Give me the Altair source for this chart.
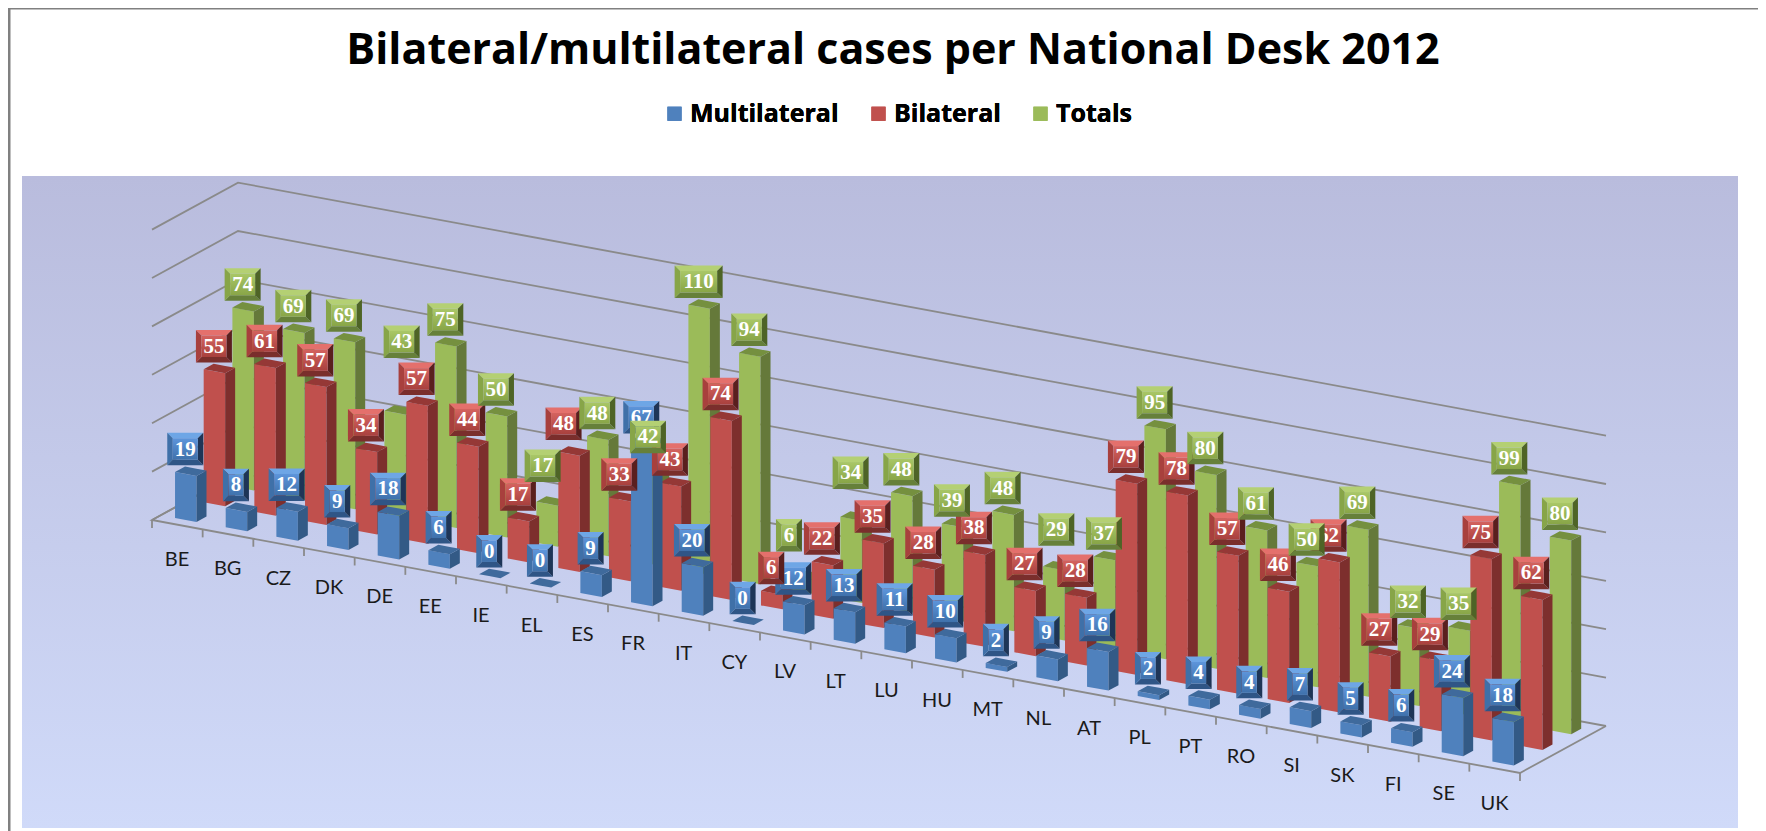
import altair as alt
import pandas as pd

# ---------- data ----------
categories = ["BE","BG","CZ","DK","DE","EE","IE","EL","ES","FR","IT","CY","LV","LT","LU","HU","MT","NL","AT","PL","PT","RO","SI","SK","FI","SE","UK"]
multilateral = [19,8,12,9,18,6,0,0,9,67,20,0,12,13,11,10,2,9,16,2,4,4,7,5,6,24,18]
bilateral = [55,61,57,34,57,44,17,48,33,43,74,6,22,35,28,38,27,28,79,78,57,46,62,27,29,75,62]
totals = [74,69,69,43,75,50,17,48,42,110,94,6,34,48,39,48,29,37,95,80,61,50,69,32,35,99,80]
series_names = ["Multilateral", "Bilateral", "Totals"]
gridlevels = [0, 20, 40, 60, 80, 100, 120]
title_text = "Bilateral/multilateral cases per National Desk 2012"

# ---------- 3D projection of (category, depth, value) to picture space ----------
FL = (152.0, 520.0)
ALONG = (1368.0, 253.0)
DEPTH = (86.0, -47.0)
PX_PER_UNIT = 2.42
N = len(categories)
BAR_U = 0.424
BAR_D = 0.116
ROW_D = [0.10, 0.433, 0.767]
BEVEL = 5.5
CANVAS_H = 823

# labels that were moved by hand in the original chart: (series, category) -> shift
label_shift = {(2, "DK"): (7, -46), (2, "IE"): (-4, -13), (1, "EL"): (-5, -5),
               (2, "CY"): (-11, -17), (2, "LV"): (0, -21), (2, "MT"): (3, -14)}

def proj(cat, depth, val=0.0):
    u = cat / N
    return (FL[0] + ALONG[0] * u + DEPTH[0] * depth,
            FL[1] + ALONG[1] * u + DEPTH[1] * depth - PX_PER_UNIT * val)

def face_rows(name, a, b, h):
    return [dict(cat=name, x=a[0], y=a[1] - h, y2=a[1]), dict(cat=name, x=b[0], y=b[1] - h, y2=b[1])]

def interp(p, q, x):
    return p[1] + (q[1] - p[1]) * (x - p[0]) / (q[0] - p[0])

# ---------- styling ----------
front_col = ["#4F81BD", "#C0504D", "#9BBB59"]
side_col = ["#335A86", "#7D2F2D", "#65793A"]
top_col = ["#3F6A9C", "#953836", "#75903F"]
bev_top = ["#6EA6E6", "#E4706C", "#B4D073"]
bev_left = ["#3F70A8", "#A8403D", "#87A548"]
bev_right = ["#1E3557", "#5A1F1E", "#4E6426"]
bev_bot = ["#2F5586", "#7A2E2C", "#66803A"]
face_a = ["#5D95DB", "#D4635F", "#A9C767"]
face_b = ["#3F71AB", "#A8403D", "#88A547"]

series_vals = [multilateral, bilateral, totals]
fronts, sides, tops, anchors, bevels = [], [], [], [], []
for s, vals in enumerate(series_vals):
    fr, si, to, an, be = [], [], [], [], []
    d0 = ROW_D[s]
    for i, v in enumerate(vals):
        c0 = i + 0.285
        h = v * PX_PER_UNIT
        A = proj(c0, d0)
        B = proj(c0 + BAR_U, d0)
        C = proj(c0 + BAR_U, d0 + BAR_D)
        D = proj(c0, d0 + BAR_D)
        for r in face_rows(categories[i], A, B, h):
            r["series"] = series_names[s]
            fr.append(r)
        si += face_rows(categories[i], B, C, h)
        for pt in [A, D, B, C]:
            x = pt[0]
            up = interp(A, D, x) if x <= D[0] else interp(D, C, x)
            lo = interp(A, B, x) if x <= B[0] else interp(B, C, x)
            to.append(dict(cat=categories[i], x=x, y=up - h, y2=lo - h))
        cx = (A[0] + C[0]) / 2
        cy = (A[1] + C[1]) / 2 - h
        label = str(v)
        half = {1: 13.0, 2: 18.0, 3: 24.0}[len(label)]
        sx, sy = label_shift.get((s, categories[i]), (0, 0))
        bx = cx - 5.5 + sx
        y1 = cy - 6 + sy
        y0 = y1 - 32.5
        x0, x1 = bx - half, bx + half
        b = BEVEL
        an.append(dict(cat=categories[i], label=label, x0i=x0 + b, x1i=x1 - b, y0i=y0 + b, y1i=y1 - b,
                       xc=bx, yc=(y0 + y1) / 2 + 0.5))
        key = categories[i]
        for part, col, pts in [
            ("t", bev_top[s], [(x0, y0, y0), (x0 + b, y0, y0 + b), (x1 - b, y0, y0 + b), (x1, y0, y0)]),
            ("b", bev_bot[s], [(x0, y1, y1), (x0 + b, y1 - b, y1), (x1 - b, y1 - b, y1), (x1, y1, y1)]),
            ("l", bev_left[s], [(x0, y0, y1), (x0 + b, y0 + b, y1 - b)]),
            ("r", bev_right[s], [(x1 - b, y0 + b, y1 - b), (x1, y0, y1)]),
        ]:
            for (px, py, py2) in pts:
                be.append(dict(part=key + part, fill=col, x=px, y=py, y2=py2))
    fronts.append(pd.DataFrame(fr)); sides.append(pd.DataFrame(si)); tops.append(pd.DataFrame(to))
    anchors.append(pd.DataFrame(an)); bevels.append(pd.DataFrame(be))

grid_rows = []
for lv in gridlevels:
    for k, pt in enumerate([proj(0, 0, lv), proj(0, 1, lv), proj(N, 1, lv)]):
        grid_rows.append(dict(level=lv, k=k, x=pt[0], y=pt[1]))
floor_rows = []
for k, pt in enumerate([proj(0, 1), proj(0, 0), proj(N, 0), proj(N, 1)]):
    floor_rows.append(dict(level=-1, k=k, x=pt[0], y=pt[1]))
grid_df = pd.DataFrame(grid_rows + floor_rows)
tick_df = pd.DataFrame([dict(x=proj(i, 0)[0], y=proj(i, 0)[1], y2=proj(i, 0)[1] + 8) for i in range(N + 1)])
cat_df = pd.DataFrame([dict(cat=c, x=177 + 50.67 * i, y=560 + 9.37 * i) for i, c in enumerate(categories)])

xs = alt.Scale(domain=[8, 1758], range=[0, 1750], nice=False, zero=False)
ys = alt.Scale(domain=[8, 8 + CANVAS_H], range=[0, CANVAS_H], nice=False, zero=False)
X = lambda f: alt.X(f, type="quantitative", scale=xs, axis=None)
Y = lambda f: alt.Y(f, type="quantitative", scale=ys, axis=None, stack=None)

def vgrad(a, b):
    return alt.LinearGradient(gradient="linear", stops=[alt.GradientStop(offset=0, color=a), alt.GradientStop(offset=1, color=b)], x1=0, x2=0, y1=0, y2=1)

layers = []

# panel background and frame
bg_df = pd.DataFrame([dict(x=22, x2=1738, y=176, y2=828)])
layers.append(alt.Chart(bg_df).mark_rect(fill=vgrad("#B9BCDD", "#D0DAF9")).encode(x=X("x"), x2="x2", y=Y("y"), y2="y2"))
frame_df = pd.DataFrame([dict(x=8, x2=10.5, y=8, y2=831), dict(x=8, x2=1758, y=8, y2=9.5)])
layers.append(alt.Chart(frame_df).mark_rect(fill="#808080").encode(x=X("x"), x2="x2", y=Y("y"), y2="y2"))

# walls, floor, ticks
layers.append(alt.Chart(grid_df).mark_line(color="#8A8A8A", strokeWidth=1.8).encode(x=X("x"), y=Y("y"), detail="level:N", order="k:Q"))
layers.append(alt.Chart(tick_df).mark_rule(color="#8A8A8A", strokeWidth=1.8).encode(x=X("x"), y=Y("y"), y2="y2"))

# category labels
layers.append(alt.Chart(cat_df).mark_text(font="Lato", fontSize=20, color="#1A1A1A", align="center", baseline="middle").encode(x=X("x"), y=Y("y"), text="cat:N"))

# bars, back row first
legend = alt.Legend(title=None, orient="none", legendX=654, legendY=93, direction="horizontal", symbolType="square", symbolSize=196, symbolStrokeWidth=0,
                    labelFont="Open Sans", labelFontWeight="bold", labelFontSize=25, labelColor="#000000", columnPadding=27, labelOffset=3, symbolOpacity=1)
color = alt.Color("series:N", scale=alt.Scale(domain=series_names, range=front_col), legend=legend)
for s in [2, 1, 0]:
    layers.append(alt.Chart(fronts[s]).mark_area(opacity=1).encode(x=X("x"), y=Y("y"), y2="y2", detail="cat:N", color=color))
    layers.append(alt.Chart(sides[s]).mark_area(color=side_col[s]).encode(x=X("x"), y=Y("y"), y2="y2", detail="cat:N"))
    layers.append(alt.Chart(tops[s]).mark_area(color=top_col[s]).encode(x=X("x"), y=Y("y"), y2="y2", detail="cat:N"))

# bevelled value labels: Multilateral below Bilateral below Totals
for s in [0, 1, 2]:
    df = anchors[s]
    layers.append(alt.Chart(bevels[s]).mark_area().encode(x=X("x"), y=Y("y"), y2="y2", detail="part:N", color=alt.Color("fill:N", scale=None)))
    layers.append(alt.Chart(df).mark_rect(fill=vgrad(face_a[s], face_b[s])).encode(x=X("x0i"), x2="x1i", y=Y("y0i"), y2="y1i"))
    layers.append(alt.Chart(df).mark_text(font="Liberation Serif", fontWeight="bold", fontSize=21, color="white", align="center", baseline="middle").encode(x=X("xc"), y=Y("yc"), text="label:N"))

# title
title_df = pd.DataFrame([dict(x=893, y=51, t=title_text)])
layers.append(alt.Chart(title_df).mark_text(font="Open Sans", fontWeight="bold", fontSize=43, color="black", align="center", baseline="middle").encode(x=X("x"), y=Y("y"), text="t:N"))

chart = alt.layer(*layers).resolve_scale(color="independent").properties(width=1750, height=CANVAS_H, padding=0, autosize=alt.AutoSizeParams(type="none"), background="white").configure_view(stroke=None)
chart.save("out.html", embed_options={"renderer": "svg", "actions": False})
